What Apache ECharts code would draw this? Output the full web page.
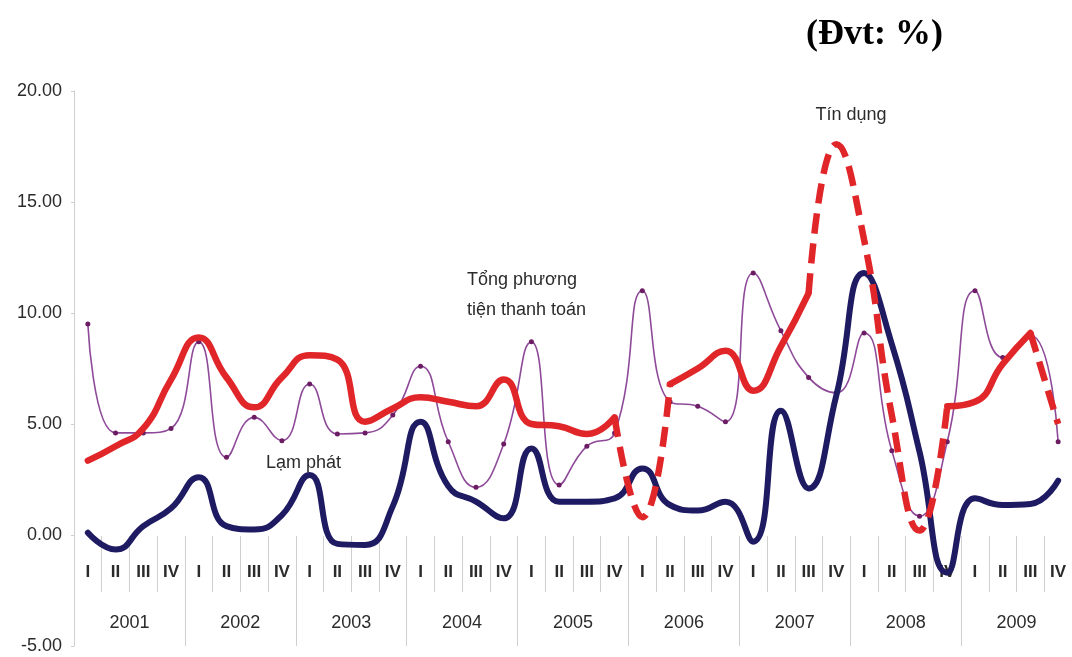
<!DOCTYPE html>
<html>
<head>
<meta charset="utf-8">
<script src="https://cdn.jsdelivr.net/npm/echarts@6/dist/echarts.min.js"></script>
<style>
  html, body { margin: 0; padding: 0; background: #ffffff; }
  #chart { width: 1072px; height: 657px; }
</style>
</head>
<body>
<div id="chart"></div>
<script>
// Quarterly growth rates, 2001–2009 (%)
const years = ['2001', '2002', '2003', '2004', '2005', '2006', '2007', '2008', '2009'];
const quarterNames = ['I', 'II', 'III', 'IV'];
const quarterLabels = years.flatMap(() => quarterNames);

// Tín dụng (credit)
const tinDung = [
  3.35, 4.0, 4.8, 7.0,
  8.9, 7.1, 5.75, 7.1,
  8.1, 7.9, 5.1, 5.7,
  6.2, 6.0, 5.8, 7.0,
  5.0, 4.9, 4.55, 5.3,
  0.8, 6.8, 7.5, 8.3,
  6.5, 8.5, 10.9, 17.6,
  13.3, 5.4, 0.2, 5.8,
  6.0, 7.7, 9.1, 5.0
];

// Tổng phương tiện thanh toán (total means of payment)
const tongPhuongTien = [
  9.5, 4.6, 4.6, 4.8,
  8.7, 3.5, 5.3, 4.25,
  6.8, 4.55, 4.6, 5.4,
  7.6, 4.2, 2.15, 4.1,
  8.7, 2.25, 4.0, 4.6,
  11.0, 6.0, 5.8, 5.1,
  11.8, 9.2, 7.1, 6.4,
  9.1, 3.8, 0.85, 4.2,
  11.0, 8.0, 9.0, 4.2
];

// Lạm phát (inflation)
const lamPhat = [
  0.1, -0.65, 0.4, 1.2,
  2.6, 0.4, 0.25, 0.9,
  2.7, -0.4, -0.45, 1.3,
  5.1, 2.2, 1.5, 0.75,
  3.9, 1.5, 1.5, 1.65,
  3.0, 1.35, 1.1, 1.5,
  -0.3, 5.6, 2.1, 6.3,
  11.8, 8.6, 3.75, -1.7,
  1.65, 1.35, 1.4, 2.45
];

// Quarter spans [from, to] over which the credit line is drawn dashed
const dashedSpans = [[19, 21], [26, 31], [34, 35]];

function segmentIsDashed(i) {
  return dashedSpans.some(([a, b]) => i >= a && i < b);
}
// Split the credit series into a solid and a dashed part sharing end points
const creditSolid = tinDung.map((v, i) => {
  const left = i > 0 && !segmentIsDashed(i - 1);
  const right = i < tinDung.length - 1 && !segmentIsDashed(i);
  return (left || right) ? v : null;
});
const creditDashed = tinDung.map((v, i) => {
  const left = i > 0 && segmentIsDashed(i - 1);
  const right = i < tinDung.length - 1 && segmentIsDashed(i);
  return (left || right) ? v : null;
});

const FONT = "'Liberation Sans', Arial, sans-serif";
const NOTE_FONT = "18px 'Liberation Sans', Arial, sans-serif";
const TEXT = '#2b2b2b';
const GRID_LINE = '#cfcfcf';
const RED = '#e1262a';
const NAVY = '#1f1b62';
const PURPLE = '#8e4a99';

const chart = echarts.init(document.getElementById('chart'), null, { renderer: 'canvas' });

chart.setOption({
  backgroundColor: '#ffffff',
  animation: false,
  title: {
    text: '(Đvt: %)',
    left: 801,
    top: 12,
    textStyle: {
      fontFamily: "'Liberation Serif', 'Times New Roman', serif",
      fontWeight: 'bold',
      fontSize: 36,
      color: '#000000'
    }
  },
  grid: { left: 74, right: -4, top: 91, bottom: 11, containLabel: false },
  xAxis: [
    {
      // quarter row, sitting on the zero line
      type: 'category',
      data: quarterLabels,
      position: 'bottom',
      offset: -110,
      boundaryGap: true,
      axisLine: { show: false, onZero: false },
      axisTick: { show: true, interval: 0, length: 56, lineStyle: { color: GRID_LINE, width: 1 } },
      axisLabel: {
        interval: 0, margin: 36, verticalAlign: 'middle',
        fontFamily: FONT, fontSize: 17, fontWeight: 'bold', color: TEXT
      },
      splitLine: { show: false }
    },
    {
      // year row along the bottom of the plot
      type: 'category',
      data: years,
      position: 'top',
      offset: -555,
      boundaryGap: true,
      axisLine: { show: false, onZero: false },
      axisTick: { show: true, interval: 0, length: 110, lineStyle: { color: GRID_LINE, width: 1 } },
      axisLabel: {
        interval: 0, margin: 23, verticalAlign: 'middle',
        fontFamily: FONT, fontSize: 18, color: TEXT
      },
      splitLine: { show: false }
    }
  ],
  yAxis: {
    type: 'value',
    min: -5,
    max: 20,
    interval: 5,
    axisLine: { show: true, lineStyle: { color: GRID_LINE, width: 1 } },
    axisTick: { show: true, length: 3, lineStyle: { color: GRID_LINE } },
    splitLine: { show: false },
    axisLabel: {
      margin: 12,
      fontFamily: FONT, fontSize: 18, color: TEXT,
      formatter: v => v.toFixed(2)
    }
  },
  series: [
    {
      name: 'Tổng phương tiện thanh toán',
      type: 'line',
      xAxisIndex: 0,
      data: tongPhuongTien,
      smooth: 0.5,
      symbol: 'circle',
      symbolSize: 5,
      itemStyle: { color: '#6b1c63' },
      lineStyle: { color: PURPLE, width: 1.6 },
      z: 2
    },
    {
      name: 'Lạm phát',
      type: 'line',
      xAxisIndex: 0,
      data: lamPhat,
      smooth: 0.5,
      symbol: 'none',
      lineStyle: { color: NAVY, width: 6, cap: 'round', join: 'round' },
      z: 3
    },
    {
      name: 'Tín dụng',
      type: 'line',
      xAxisIndex: 0,
      data: creditSolid,
      connectNulls: false,
      smooth: 0.5,
      symbol: 'none',
      lineStyle: { color: RED, width: 6.5, cap: 'round', join: 'round' },
      z: 4
    },
    {
      name: 'Tín dụng (đoạn nét đứt)',
      type: 'line',
      xAxisIndex: 0,
      data: creditDashed,
      connectNulls: false,
      smooth: 0.5,
      symbol: 'none',
      lineStyle: { color: RED, width: 6.5, type: [20, 10], cap: 'butt' },
      z: 4
    }
  ],
  graphic: [
    {
      type: 'text', x: 851, y: 115, z: 10,
      style: {
        text: 'Tín dụng', font: NOTE_FONT, fill: TEXT,
        align: 'center', verticalAlign: 'middle', textAlign: 'center', textVerticalAlign: 'middle'
      }
    },
    {
      type: 'text', x: 467, y: 280, z: 10,
      style: {
        text: 'Tổng phương', font: NOTE_FONT, fill: TEXT,
        align: 'left', verticalAlign: 'middle', textAlign: 'left', textVerticalAlign: 'middle'
      }
    },
    {
      type: 'text', x: 467, y: 310, z: 10,
      style: {
        text: 'tiện thanh toán', font: NOTE_FONT, fill: TEXT,
        align: 'left', verticalAlign: 'middle', textAlign: 'left', textVerticalAlign: 'middle'
      }
    },
    {
      type: 'text', x: 266, y: 463, z: 10,
      style: {
        text: 'Lạm phát', font: NOTE_FONT, fill: TEXT,
        align: 'left', verticalAlign: 'middle', textAlign: 'left', textVerticalAlign: 'middle'
      }
    }
  ]
});
</script>
</body>
</html>
